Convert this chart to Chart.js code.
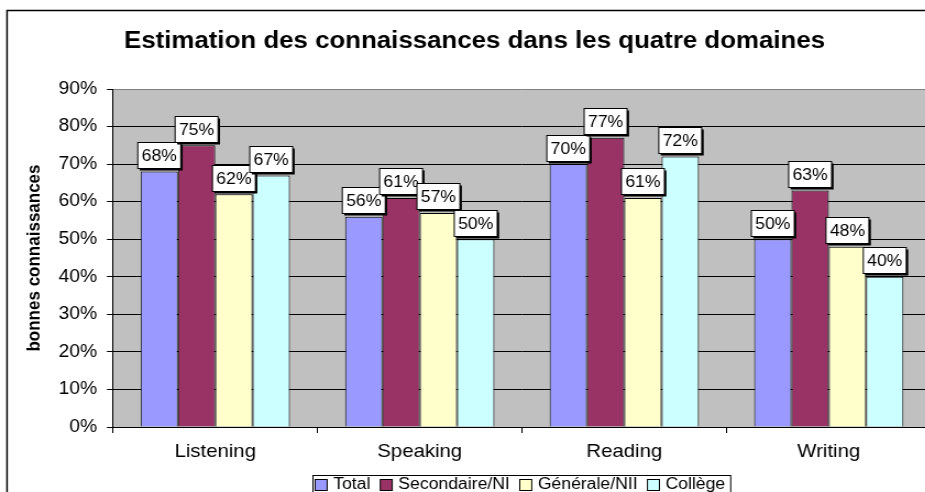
<!DOCTYPE html>
<html>
<head>
<meta charset="utf-8">
<script src="https://cdn.jsdelivr.net/npm/chart.js@4.4.1/dist/chart.umd.min.js"></script>
<style>
html, body { margin: 0; padding: 0; overflow: hidden; background: #fff; }
#canvas1 { transform: scaleX(1.1); transform-origin: 0 0; }
</style>
</head>
<body onload="start()">
<canvas id="canvas1" width="880" height="492" style="width:880px;height:492px"></canvas>
<script>
var categories = ['Listening', 'Speaking', 'Reading', 'Writing'];
var seriesNames = ['Total', 'Secondaire/NI', 'Générale/NII', 'Collège'];
var total = [68, 56, 70, 50];
var secondaire = [75, 61, 77, 63];
var generale = [62, 57, 61, 48];
var college = [67, 50, 72, 40];
var yMax = 90;
var yStep = 10;
var seriesColors = ['#9999FF', '#993366', '#FFFFCC', '#CCFFFF'];
var fontName = "'Liberation Sans', Arial, sans-serif";

var canvas1;
var myChart1;

// white page, outer frame and grey plot area
var framePlugin = {
    id: 'frame',
    beforeDraw: function(chart) {
        var ctx = chart.ctx;
        var a = chart.chartArea;
        ctx.save();
        ctx.fillStyle = '#fff';
        ctx.fillRect(0, 0, chart.width, chart.height);
        ctx.strokeStyle = '#000';
        ctx.lineWidth = 1.5;
        ctx.strokeRect(6.4, 10.5, 1000, 600);
        ctx.fillStyle = '#C0C0C0';
        ctx.fillRect(a.left, a.top, a.right - a.left, a.bottom - a.top);
        ctx.restore();
    }
};

// value labels in white boxes with a shadow
var labelPlugin = {
    id: 'boxLabels',
    afterDatasetsDraw: function(chart) {
        var ctx = chart.ctx;
        ctx.save();
        ctx.font = '16px ' + fontName;
        ctx.textAlign = 'center';
        ctx.textBaseline = 'middle';
        chart.data.datasets.forEach(function(ds, i) {
            chart.getDatasetMeta(i).data.forEach(function(bar, j) {
                var text = ds.data[j] + '%';
                var w = ctx.measureText(text).width + 7;
                var h = 26;
                var x = bar.x - w / 2;
                var y = Math.round(bar.y - 3.5 - h) + 0.5;
                ctx.fillStyle = '#000';
                ctx.fillRect(x + 1.8, y + 2, w, h);
                ctx.fillStyle = '#fff';
                ctx.fillRect(x, y, w, h);
                ctx.strokeStyle = '#000';
                ctx.lineWidth = 1;
                ctx.strokeRect(x, y, w, h);
                ctx.fillStyle = '#000';
                ctx.fillText(text, bar.x, y + h / 2 + 1);
            });
        });
        ctx.restore();
    }
};

// legend in a box under the axis
var legendPlugin = {
    id: 'boxLegend',
    afterDraw: function(chart) {
        var ctx = chart.ctx;
        var left = 284.5;
        var top = 475.5;
        var x = left + 2;
        ctx.save();
        ctx.font = '16px ' + fontName;
        ctx.textAlign = 'left';
        ctx.textBaseline = 'middle';
        var widths = seriesNames.map(function(n) { return ctx.measureText(n).width; });
        var right = x;
        widths.forEach(function(w, i) {
            right += 10.9 + 5.5 + w + (i < widths.length - 1 ? 9 : 0);
        });
        right += 5;
        ctx.fillStyle = '#fff';
        ctx.fillRect(left, top, right - left, 40);
        ctx.strokeStyle = '#000';
        ctx.lineWidth = 1;
        ctx.strokeRect(left, top, right - left, 40);
        seriesNames.forEach(function(n, i) {
            ctx.fillStyle = seriesColors[i];
            ctx.fillRect(x, 479.5, 10.9, 11);
            ctx.strokeRect(x, 479.5, 10.9, 11);
            ctx.fillStyle = '#000';
            ctx.fillText(n, x + 16.4, 484.5);
            x += 10.9 + 5.5 + widths[i] + 9;
        });
        ctx.restore();
    }
};

function start() {
    canvas1 = document.getElementById('canvas1');
    setchart();
}

function setchart() {
    var seriesData = [total, secondaire, generale, college];
    var datasets = seriesNames.map(function(name, i) {
        return {
            label: name,
            data: seriesData[i],
            backgroundColor: seriesColors[i],
            borderColor: '#000',
            borderWidth: 1,
            categoryPercentage: 0.73,
            barPercentage: 1
        };
    });

    myChart1 = new Chart(canvas1, {
        type: 'bar',
        data: {
            labels: categories,
            datasets: datasets
        },
        options: {
            responsive: false,
            animation: false,
            layout: {
                padding: {left: 16.4, right: 33.6, top: 0, bottom: 0}
            },
            scales: {
                x: {
                    grid: {
                        offset: true,
                        drawOnChartArea: false,
                        tickLength: 6,
                        tickColor: '#000',
                        color: '#000'
                    },
                    border: {color: '#000'},
                    ticks: {
                        color: '#000',
                        padding: 8,
                        font: {family: fontName, size: 18.5}
                    },
                    afterFit: function(s) { s.height = 65; }
                },
                y: {
                    min: 0,
                    max: yMax,
                    grid: {
                        color: function(c) {
                            return c.tick && c.tick.value === yMax ? '#808080' : '#000';
                        },
                        tickLength: 5.5,
                        tickColor: '#000'
                    },
                    border: {color: '#000'},
                    ticks: {
                        stepSize: yStep,
                        color: '#000',
                        padding: 9,
                        font: {family: fontName, size: 17.5},
                        callback: function(v) { return v + '%'; }
                    },
                    title: {
                        display: true,
                        text: 'bonnes connaissances',
                        color: '#000',
                        font: {family: fontName, size: 17, weight: 'bold'},
                        padding: {top: 4.8, bottom: 0}
                    },
                    afterFit: function(s) { s.width = 86.3; }
                }
            },
            plugins: {
                legend: {display: false},
                tooltip: {enabled: false},
                title: {
                    display: true,
                    text: 'Estimation des connaissances dans les quatre domaines',
                    color: '#000',
                    font: {family: fontName, size: 23.5, weight: 'bold'},
                    padding: {top: 27.9, bottom: 32.9}
                }
            }
        },
        plugins: [framePlugin, labelPlugin, legendPlugin]
    });
}
</script>
</body>
</html>
